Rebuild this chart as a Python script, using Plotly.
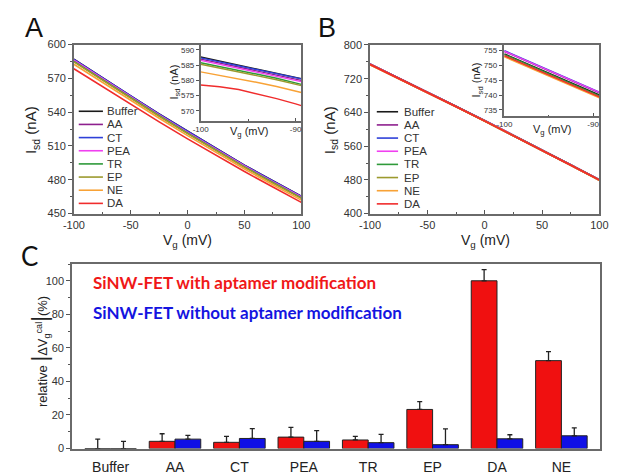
import plotly.graph_objects as go

W, H = 619, 475
def px(x): return x / W
def py(y): return 1 - y / H

# ---------------- data ----------------
names = ["Buffer", "AA", "CT", "PEA", "TR", "EP", "NE", "DA"]
colors = ["#1a1a1a", "#8e1f8e", "#2f40d8", "#f040f0", "#2f9a3a", "#9c9a2e", "#f8a236", "#f02c2c"]

vg = [-100, -75, -50, -25, 0, 25, 50, 75, 100]
vg_ticks = [-100, -50, 0, 50, 100]
vg_ticklabels = ["-100", "-50", "0", "50", "100"]
isd_A = {
    "Buffer": [587.0, 570.5, 554.5, 538.5, 523.0, 508.0, 493.0, 479.0, 465.5],
    "AA":     [586.4, 569.9, 554.0, 538.0, 522.5, 507.5, 492.6, 478.6, 465.1],
    "CT":     [586.7, 570.2, 554.3, 538.3, 522.8, 507.8, 492.8, 478.8, 465.3],
    "PEA":    [586.0, 569.6, 553.6, 537.6, 522.1, 507.1, 492.2, 478.2, 464.7],
    "TR":     [585.0, 568.7, 552.7, 536.8, 521.3, 506.4, 491.5, 477.6, 464.0],
    "EP":     [584.6, 568.3, 552.3, 536.4, 520.9, 506.0, 491.1, 477.1, 463.5],
    "NE":     [582.5, 566.3, 550.4, 534.6, 519.2, 504.4, 489.6, 475.6, 462.0],
    "DA":     [578.5, 562.6, 547.0, 531.4, 516.3, 501.8, 487.3, 473.6, 460.0],
}
vg_inset_A = [-100, -98, -96, -94, -92, -90, -89.4]
inset_ticks = [-100, -90]
inset_ticklabels = ["-100", "-90"]
isd_inset_A = {
    "Buffer": [587.7, 586.4, 585.0, 583.7, 582.4, 581.0, 580.6],
    "AA":     [587.0, 585.7, 584.4, 583.1, 581.8, 580.4, 580.0],
    "CT":     [587.4, 586.1, 584.8, 583.5, 582.2, 580.9, 580.5],
    "PEA":    [586.6, 585.3, 584.0, 582.7, 581.4, 580.0, 579.6],
    "TR":     [585.8, 584.6, 583.3, 582.0, 580.7, 579.2, 578.7],
    "EP":     [585.3, 584.1, 582.8, 581.5, 580.2, 578.8, 578.3],
    "NE":     [582.8, 581.7, 580.6, 579.3, 578.0, 576.5, 576.0],
    "DA":     [578.5, 577.9, 577.0, 575.6, 574.0, 572.3, 571.7],
}

isd_B = {
    "Buffer": [754.3, 721.3, 687.9, 654.2, 620.1, 585.7, 550.9, 515.4, 479.8],
    "AA":     [754.8, 721.7, 688.3, 654.6, 620.4, 586.0, 551.2, 515.7, 480.1],
    "CT":     [755.0, 721.9, 688.5, 654.8, 620.6, 586.1, 551.3, 515.8, 480.2],
    "PEA":    [754.9, 721.8, 688.4, 654.7, 620.5, 586.0, 551.2, 515.7, 480.1],
    "TR":     [754.1, 721.1, 687.7, 654.0, 619.9, 585.5, 550.7, 515.2, 479.6],
    "EP":     [753.6, 720.7, 687.4, 653.7, 619.6, 585.2, 550.5, 515.0, 479.4],
    "NE":     [753.4, 720.5, 687.2, 653.6, 619.5, 585.1, 550.4, 514.9, 479.3],
    "DA":     [754.0, 721.0, 687.6, 653.9, 619.8, 585.4, 550.6, 515.1, 479.6],
}
vg_inset_B = [-100, -98, -96, -94, -92, -90, -89.3]
isd_inset_B = {
    "Buffer": [753.8, 751.2, 748.6, 746.0, 743.5, 740.9, 740.0],
    "AA":     [754.6, 752.0, 749.4, 746.9, 744.3, 741.6, 740.7],
    "CT":     [754.9, 752.3, 749.8, 747.2, 744.6, 741.9, 741.0],
    "PEA":    [754.7, 752.1, 749.6, 747.0, 744.4, 741.8, 740.9],
    "TR":     [753.6, 751.0, 748.4, 745.8, 743.2, 740.6, 739.7],
    "EP":     [753.0, 750.4, 747.8, 745.3, 742.7, 740.1, 739.3],
    "NE":     [752.8, 750.2, 747.6, 745.0, 742.5, 739.9, 739.0],
    "DA":     [753.2, 750.6, 748.0, 745.4, 742.8, 740.2, 739.4],
}

cats = ["Buffer", "AA", "CT", "PEA", "TR", "EP", "DA", "NE"]
with_apt = [0, 4.3, 3.7, 6.8, 5.1, 23.3, 100.0, 52.4]
with_apt_err = [5.6, 4.5, 3.5, 5.8, 2.1, 4.7, 6.6, 5.4]
without_apt = [0, 5.6, 6.0, 4.3, 3.5, 2.3, 5.8, 7.6]
without_apt_err = [4.3, 2.2, 5.9, 6.4, 4.9, 9.4, 2.4, 4.7]

# ---------------- figure ----------------
fig = go.Figure()
FONT = "Liberation Sans"
TICKC = "#333333"

for n, c in zip(names, colors):
    fig.add_trace(go.Scatter(x=vg, y=isd_A[n], mode="lines", line=dict(color=c, width=1.6),
                             xaxis="x", yaxis="y", showlegend=False, name=n))
    fig.add_trace(go.Scatter(x=vg_inset_A, y=isd_inset_A[n], mode="lines", line=dict(color=c, width=1.4),
                             xaxis="x2", yaxis="y2", showlegend=False, name=n))
    fig.add_trace(go.Scatter(x=vg, y=isd_B[n], mode="lines", line=dict(color=c, width=1.8),
                             xaxis="x3", yaxis="y3", showlegend=False, name=n))
    fig.add_trace(go.Scatter(x=vg_inset_B, y=isd_inset_B[n], mode="lines", line=dict(color=c, width=1.4),
                             xaxis="x4", yaxis="y4", showlegend=False, name=n))

fig.add_trace(go.Bar(x=cats, y=with_apt, name="with", marker=dict(color="#f01010", line=dict(color="#222", width=1)),
                     error_y=dict(type="data", array=with_apt_err, arrayminus=[0]*len(cats), symmetric=False,
                                  color="#222", thickness=1.3, width=2.5),
                     xaxis="x5", yaxis="y5", showlegend=False))
fig.add_trace(go.Bar(x=cats, y=without_apt, name="without", marker=dict(color="#1010e6", line=dict(color="#222", width=1)),
                     error_y=dict(type="data", array=without_apt_err, arrayminus=[0]*len(cats), symmetric=False,
                                  color="#222", thickness=1.3, width=2.5),
                     xaxis="x5", yaxis="y5", showlegend=False))

def ax(domain, rng, dtick, tick0, minor_dtick, fs, ticklen=4, anchor=None, ticks="outside", **kw):
    d = dict(domain=domain, range=rng, dtick=dtick, tick0=tick0, showgrid=False, zeroline=False,
             showline=True, linecolor="#6a6a6a", linewidth=1.5, mirror=True,
             ticks=ticks, ticklen=ticklen, tickwidth=1, tickcolor="#555",
             tickfont=dict(family=FONT, size=fs, color=TICKC), anchor=anchor)
    if minor_dtick:
        d["minor"] = dict(dtick=minor_dtick, ticks=ticks, ticklen=ticklen * 0.55, tickcolor="#555", showgrid=False)
    d.update(kw)
    return d

fig.update_layout(
    width=W, height=H, margin=dict(l=0, r=0, t=0, b=0),
    paper_bgcolor="white", plot_bgcolor="white",
    barmode="group", bargap=0.2, bargroupgap=0,
    xaxis=ax([px(65), px(300)], [-100, 100], 50, -100, 25, 11, anchor="y", ticks="inside",
             tickmode="array", tickvals=vg_ticks, ticktext=vg_ticklabels),
    yaxis=ax([py(213), py(39.5)], [450, 600], 30, 450, 15, 11, anchor="x"),
    xaxis2=ax([px(196), px(300)], [-100, -89.4], 10, -100, 5, 8, ticklen=3, anchor="y2", ticks="inside",
              tickmode="array", tickvals=inset_ticks, ticktext=inset_ticklabels),
    yaxis2=ax([py(117.5), py(39.5)], [566.8, 591.8], 5, 570, None, 8, ticklen=3, anchor="x2"),
    xaxis3=ax([px(371), px(608)], [-100, 100], 50, -100, 25, 11, anchor="y3", ticks="inside",
              tickmode="array", tickvals=vg_ticks, ticktext=vg_ticklabels),
    yaxis3=ax([py(213), py(40)], [400, 800], 80, 400, 40, 11, anchor="x3"),
    xaxis4=ax([px(509), px(608)], [-100.1, -89.3], 10, -100, 5, 8, ticklen=3, anchor="y4", ticks="inside",
              tickmode="array", tickvals=inset_ticks, ticktext=inset_ticklabels),
    yaxis4=ax([py(113), py(40)], [732.9, 756.8], 5, 735, None, 8, ticklen=3, anchor="x4"),
    xaxis5=dict(domain=[px(63), px(608.7)], range=[-0.6, 7.6], type="category", anchor="y5",
                showgrid=False, zeroline=False, showline=True, linecolor="#6a6a6a", linewidth=1.5, mirror=True,
                ticks="", ticklabelstandoff=5, tickfont=dict(family=FONT, size=14, color="#222")),
    yaxis5=ax([py(454), py(264.7)], [0, 110], 20, 0, 10, 11, anchor="x5"),
)

ann = []
def text(x, y, s, size, color="#222", angle=0, xanchor="center", family=FONT, bold=False):
    if bold:
        s = "<b>" + s + "</b>"
    ann.append(dict(x=px(x), y=py(y), xref="paper", yref="paper", text=s, showarrow=False,
                    font=dict(family=family, size=size, color=color), textangle=angle,
                    xanchor=xanchor, yanchor="middle"))

# panel labels
text(24, 23, "A", 27, color="#111")
text(327, 23, "B", 27, color="#111")
text(19, 256, "C", 26, color="#111", family="Lato")

# axis titles
ISD = "I<sub>sd</sub> (nA)"
VGT = "V<sub>g</sub> (mV)"
text(22, 127, ISD, 15, angle=-90)
text(182, 241, VGT, 14)
text(330, 127, ISD, 15, angle=-90)
text(490, 241, VGT, 14)
text(169, 78, ISD, 11, angle=-90)
text(246, 129, VGT, 11)
text(482, 76, ISD, 11, angle=-90)
text(560, 127, VGT, 11)
text(29, 355, "relative <span style='font-size:22px'>|</span>ΔV<sub>g</sub><sup>cal</sup><span style='font-size:22px'>|</span>(%)", 13, angle=-90)

# manual legends (A and B)
shapes = []
for i, (n, c) in enumerate(zip(names, colors)):
    for (x0, x1, tx, y0) in [(70, 95, 97, 108), (378, 400, 404, 108.5)]:
        yy = y0 + i * 13.5
        shapes.append(dict(type="line", xref="paper", yref="paper", x0=px(x0), x1=px(x1), y0=py(yy), y1=py(yy),
                           line=dict(color=c, width=1.6)))
        text(tx, yy, n, 11.5, color="#333", xanchor="left")

# panel C legend text
text(83, 284, "SiNW-FET with aptamer modification", 17, color="#f01818", xanchor="left", family="Lato", bold=True)
text(83, 314, "SiNW-FET without aptamer modification", 17, color="#1414e0", xanchor="left", family="Lato", bold=True)

fig.update_layout(annotations=ann, shapes=shapes)
fig.write_html("out.html", config={"displayModeBar": False},
               post_script="document.body.style.margin='0';document.body.style.overflow='hidden';")
